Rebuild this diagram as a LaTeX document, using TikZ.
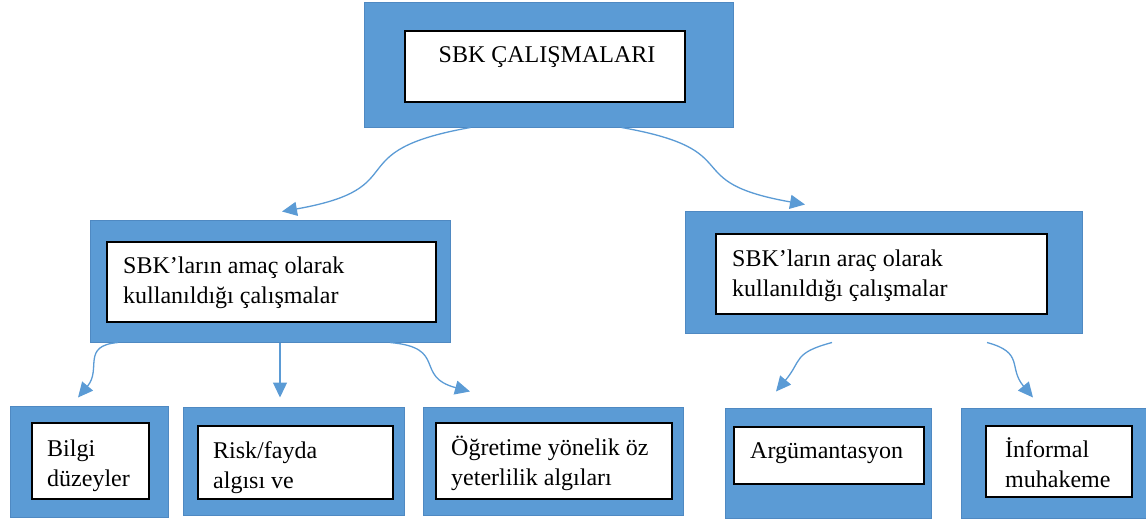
\documentclass[tikz,border=0pt]{standalone}
\usepackage{fontspec}
\setmainfont{Liberation Serif}
\usetikzlibrary{arrows.meta}
\definecolor{boxblue}{HTML}{5B9BD5}
\definecolor{edgeblue}{HTML}{4F89C2}

\begin{document}
\begin{tikzpicture}[x=1pt, y=-1pt,
outerbox/.style={draw=edgeblue, fill=boxblue, line width=1pt, inner sep=0pt},
innerbox/.style={draw=black, fill=white, line width=1.5pt, inner sep=0pt},
txt/.style={anchor=base west, align=left, inner sep=0pt, font=\fontsize{24}{30}\selectfont},
conn/.style={draw=boxblue, line width=1.3pt, -{Triangle[length=15pt,width=14pt]}},
]
\useasboundingbox (0,0) rectangle (1146,520);

\node[outerbox, minimum width=369pt, minimum height=125pt] (sbk) at (548.5,64.5) {};
\node[innerbox, minimum width=280pt, minimum height=71pt] (sbkin) at (545,66.5) {};
\node[txt, anchor=base] (sbktxt) at (547,62) {SBK ÇALIŞMALARI};

\node[outerbox, minimum width=360pt, minimum height=122pt] (amac) at (270,281) {};
\node[innerbox, minimum width=329pt, minimum height=80pt] (amacin) at (271.5,282) {};
\node[txt] (amactxt) at (123,303) {SBK’ların amaç olarak\\kullanıldığı çalışmalar};

\node[outerbox, minimum width=397pt, minimum height=122pt] (arac) at (883.5,272) {};
\node[innerbox, minimum width=331pt, minimum height=80pt] (aracin) at (881.5,274) {};
\node[txt] (aractxt) at (732,296) {SBK’ların araç olarak\\kullanıldığı çalışmalar};

\node[outerbox, minimum width=158pt, minimum height=111pt] (bilgi) at (89,461.5) {};
\node[innerbox, minimum width=117pt, minimum height=76pt] (bilgiin) at (90.5,461) {};
\node[txt] (bilgitxt) at (47,486) {Bilgi\\düzeyler};

\node[outerbox, minimum width=221pt, minimum height=108pt] (risk) at (293.5,461) {};
\node[innerbox, minimum width=195pt, minimum height=73pt] (riskin) at (295.5,462.5) {};
\node[txt] (risktxt) at (213,488) {Risk/fayda\\algısı ve};

\node[outerbox, minimum width=260pt, minimum height=108pt] (ogr) at (553,461) {};
\node[innerbox, minimum width=236pt, minimum height=76pt] (ogrin) at (554,461) {};
\node[txt] (ogrtxt) at (451,485) {Öğretime yönelik öz\\yeterlilik algıları};

\node[outerbox, minimum width=206pt, minimum height=110pt] (arg) at (828,463) {};
\node[innerbox, minimum width=190pt, minimum height=57pt] (argin) at (829,455.5) {};
\node[txt] (argtxt) at (750,458) {Argümantasyon};

\node[outerbox, minimum width=185pt, minimum height=110pt] (inf) at (1053.5,463) {};
\node[innerbox, minimum width=146pt, minimum height=71pt] (infin) at (1059,461.5) {};
\node[txt] (inftxt) at (1005,487) {İnformal\\muhakeme};

\draw[conn] ([xshift=-78pt]sbk.south) to[out=190, in=10, looseness=1.7] ([xshift=12pt, yshift=8pt]amac.north);
\draw[conn] ([xshift=73pt]sbk.south) to[out=-10, in=170, looseness=1.7] ([xshift=-78.5pt, yshift=6pt]arac.north);

\draw[conn] ([xshift=-152pt]amac.south) to[out=185, in=50, looseness=1.4] ([xshift=-11pt, yshift=8pt]bilgi.north);
\draw[conn] ([xshift=10pt]amac.south) -- ([xshift=-13.5pt, yshift=9pt]risk.north);
\draw[conn] ([xshift=120pt]amac.south) to[out=-5, in=165, looseness=1.6] ([xshift=-83pt, yshift=15pt]ogr.north);

\draw[conn] ([xshift=-51.5pt, yshift=-9pt]arac.south) to[out=195, in=50, looseness=1.4] ([xshift=-52pt, yshift=16pt]arg.north);
\draw[conn] ([xshift=103.5pt, yshift=-9pt]arac.south) to[out=-15, in=130, looseness=1.4] ([xshift=-20.5pt, yshift=10pt]inf.north);
\end{tikzpicture}
\end{document}
